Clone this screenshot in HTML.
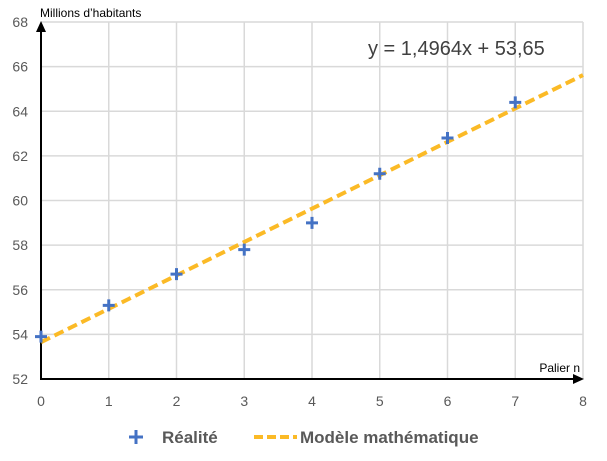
<!DOCTYPE html>
<html><head><meta charset="utf-8"><style>
body{margin:0;background:#fff;width:607px;height:456px;overflow:hidden;font-family:"Liberation Sans",sans-serif}
</style></head><body>
<svg id="c" width="607" height="456"></svg>
<script>
const categories=[0,1,2,3,4,5,6,7];
const realValues=[53.9,55.3,56.7,57.8,59.0,61.2,62.8,64.4];
const slope=1.4964, intercept=53.65;
const xTicks=[0,1,2,3,4,5,6,7,8];
const yTicks=[52,54,56,58,60,62,64,66,68];
const X=v=>41+v*(583-41)/8;
const Y=v=>379-(v-52)*(379-22)/16;
const svg=document.getElementById('c');
const NS='http://www.w3.org/2000/svg';
function mk(t,a,txt){const e=document.createElementNS(NS,t);for(const k in a)e.setAttribute(k,a[k]);if(txt!=null)e.textContent=txt;svg.appendChild(e);return e;}
xTicks.forEach(t=>{if(t>0){const g=mk('line',{x1:X(t),x2:X(t),y1:22,y2:379,stroke:'#d9d9d9','stroke-width':1.5});

}
const l=mk('text',{x:X(t),y:406,'text-anchor':'middle','font-size':14,fill:'#595959'},t);

});
yTicks.forEach(t=>{if(t>52){const g=mk('line',{x1:41,x2:583,y1:Y(t),y2:Y(t),stroke:'#d9d9d9','stroke-width':1.5});

}
const l=mk('text',{x:28,y:Y(t)+5,'text-anchor':'end','font-size':14,fill:'#595959'},t);

});
let a=mk('line',{x1:41,x2:575,y1:379,y2:379,stroke:'#000','stroke-width':2});


a=mk('polygon',{points:'584,379 573,374 573,384',fill:'#000'});


a=mk('line',{x1:41,x2:41,y1:30,y2:380,stroke:'#000','stroke-width':2});


a=mk('polygon',{points:'41,21 36,32 46,32',fill:'#000'});


a=mk('text',{x:40,y:17,'font-size':12,fill:'#000'},'Millions d’habitants');


a=mk('text',{x:580,y:372,'text-anchor':'end','font-size':12,fill:'#000'},'Palier n');


a=mk('line',{x1:X(0),y1:Y(intercept),x2:X(8),y2:Y(intercept+slope*8),stroke:'#FBBA26','stroke-width':4,'stroke-dasharray':'10,5'});


categories.forEach((c,i)=>{const x=X(c),y=Y(realValues[i]);
const p=mk('path',{d:`M${x-6} ${y}H${x+6}M${x} ${y-6}V${y+6}`,stroke:'#4472C4','stroke-width':3});

});
a=mk('text',{x:368,y:55,'font-size':20,fill:'#404040'},'y = 1,4964x + 53,65');


a=mk('path',{d:'M129 437H143M136 430V444',stroke:'#4472C4','stroke-width':3});


a=mk('text',{x:162,y:443,'font-size':17,'font-weight':'bold',fill:'#595959'},'Réalité');


a=mk('line',{x1:254,x2:297,y1:437,y2:437,stroke:'#FBBA26','stroke-width':4,'stroke-dasharray':'9,4'});


a=mk('text',{x:300,y:443,'font-size':17,'font-weight':'bold',fill:'#595959'},'Modèle mathématique');


</script>
</body></html>
